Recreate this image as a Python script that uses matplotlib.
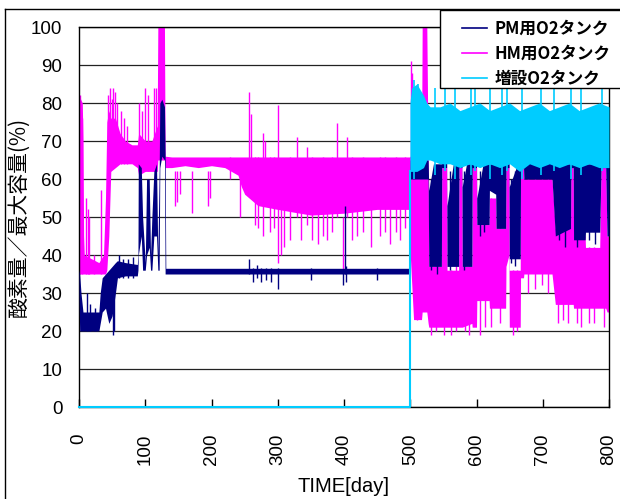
import matplotlib

matplotlib.use("Agg")
import matplotlib.pyplot as plt
from matplotlib.lines import Line2D
from matplotlib.patches import Rectangle

plt.rcParams["font.family"] = ["Liberation Sans", "Noto Sans CJK JP", "DejaVu Sans"]

SERIES_NAMES = ["PM用O2タンク", "HM用O2タンク", "増設O2タンク"]
COLORS = ["#000080", "#FF00FF", "#00CCFF"]
X_TICKS = [0, 100, 200, 300, 400, 500, 600, 700, 800]
Y_TICKS = [0, 10, 20, 30, 40, 50, 60, 70, 80, 90, 100]

# PM tank: envelope of the daily swing (day, low, high)
PM_DAY = [0, 1, 3, 6, 10, 20, 30, 32, 35, 40, 45, 50, 55, 58, 70, 88, 89, 89.5, 94, 96,
          100, 102, 106, 108, 110, 113, 117, 119, 121, 122, 125, 129, 130, 131, 200, 300,
          400, 498, 500, 527, 528, 535, 547, 547.5, 555, 555.5, 565, 573, 573.5, 578,
          578.5, 585, 593, 593.5, 600, 600.5, 610, 619, 619.5, 629, 629.5, 644, 644.5,
          649, 649.5, 662, 666, 666.5, 671, 671.5, 714, 719, 742, 742.5, 746, 746.5, 764,
          764.5, 786, 788, 795, 797, 800]
PM_LO = [30, 20, 20, 20, 20, 20, 20, 22, 25, 26, 22, 24, 30, 34, 34.5, 34.5, 36, 40, 45, 36,
         36, 40, 42, 36, 36, 45, 45, 36, 36, 63, 66, 65, 35, 35, 35, 35,
         35, 35, 60, 60, 37, 37, 37, 63, 63, 37, 37, 37, 63, 63,
         37, 37, 37, 63, 63, 48, 48, 48, 57, 56, 47, 47, 63,
         63, 39, 39, 39, 63, 63, 60, 60, 45, 47, 63, 63, 44, 44,
         46, 46, 63, 63, 45, 45]
PM_HI = [36, 35, 30, 25, 25, 25, 25, 30, 34, 35, 36, 37, 38, 38.5, 38, 37.5, 40, 64, 63, 50,
         38, 60, 60, 40, 50, 62, 64, 40, 62, 80, 81, 79, 66, 36.5, 36.5, 36.5,
         36.5, 36.5, 65, 65, 57, 64, 64, 65, 65, 53, 64, 64, 65, 65,
         58, 64, 64, 65, 65, 55, 64, 64, 64, 64, 64, 64, 65,
         65, 58, 64, 64, 65, 65, 65, 65, 64, 64, 65, 65, 64, 64,
         64, 64, 65, 65, 64, 64]
PM_SPIKE_DAY = [12, 16, 24, 52, 53, 60, 66, 74, 81, 256, 262, 268, 275, 283, 290, 301, 350,
                399, 401, 403, 450, 532, 540, 560, 581, 606, 612, 652, 658, 725, 733, 752,
                770, 779]
PM_SPIKE_LO = [20, 20, 20, 19, 20, 34, 34, 34, 34, 35, 33, 34, 33, 33.5, 33, 31, 33.5,
               32, 35, 33, 33.5, 36, 35, 36, 36, 45, 46, 38, 37, 44, 42, 42, 44, 43]
PM_SPIKE_HI = [30, 27, 26, 36, 36, 40, 39, 39, 39.5, 39, 36.5, 37.5, 36.5, 36.5, 36.5,
               36.5, 36.5, 36, 53, 37, 36.5, 60, 62, 62, 62, 62, 62, 60, 62, 62, 62, 62,
               62, 62]

# HM tank
HM_DAY = [0, 5, 6, 7, 8, 30, 37, 40, 42, 45, 48, 55, 62, 70, 80, 88, 90, 100, 110, 118,
          119, 129, 130, 140, 160, 180, 200, 220, 240, 245, 250, 270, 300, 350, 400, 450,
          497, 499, 500, 505, 517, 518, 525, 527, 528, 547, 547.5, 555, 555.5, 573, 573.5,
          578, 578.5, 593, 593.5, 600, 600.5, 619, 619.5, 629, 629.5, 644, 644.5, 649,
          649.5, 666, 666.5, 671, 671.5, 714, 719, 742, 742.5, 746, 746.5, 764, 764.5,
          786, 788, 795, 797, 800]
HM_LO = [35, 35, 35, 35, 35, 35, 35, 35, 36, 45, 62, 63, 64, 64, 64, 63, 61, 62, 62, 62,
         65, 65, 63, 63, 63.5, 63, 63.5, 63, 61, 58, 56, 53, 52, 50.5, 51, 52,
         52, 52, 40, 23, 23, 25, 25, 22, 21, 21, 21, 21, 21, 21, 21,
         21, 21, 22, 21, 21, 28, 28, 26, 26, 26, 26, 37, 40,
         21, 21, 34, 34, 35, 35, 27, 27, 27, 27, 26, 26, 26,
         26, 26, 26, 25, 25]
HM_HI = [82, 80, 70, 45, 40, 38, 40, 55, 75, 78, 76, 76, 72, 70, 69, 69, 72, 70, 70, 74,
         100, 100, 66, 65.8, 65.8, 65.8, 65.8, 65.8, 65.8, 65.8, 65.8, 65.8, 65.8, 65.8, 65.8, 65.8,
         65.8, 65.8, 66, 66, 66, 100, 100, 66, 37, 37, 63, 63, 36, 36, 64,
         64, 37, 37, 64, 64, 48, 48, 55, 55, 47, 47, 64, 64,
         36, 36, 64, 64, 60, 60, 47, 47, 64, 64, 45, 45, 42,
         42, 64, 64, 45, 45]
HM_SPIKE_DAY = [2, 4, 11, 13, 15, 22, 33, 44, 47, 50, 52, 55, 58, 63, 68, 73, 90, 95, 99,
                104, 113, 116, 145, 148, 152, 170, 195, 197, 228, 243, 256, 259, 265, 270,
                277, 281, 278, 288, 295, 301, 305, 310, 318, 329, 335, 344, 352, 360, 368,
                375, 382, 389, 399, 404, 412, 420, 428, 440, 455, 462, 470, 478, 485, 492,
                501, 503, 510, 532, 539, 551, 562, 569, 583, 589, 605, 613, 622, 635, 655,
                661, 677, 688, 699, 708, 723, 731, 738, 751, 758, 770, 778, 792]
HM_SPIKE_LO = [35, 35, 35, 35, 35, 35, 35, 60, 62, 64, 64, 64, 64, 64, 64, 64, 62, 62, 62,
               62, 62, 62, 53, 54, 56, 51, 53, 55, 60, 50, 60, 60, 48, 47,
               55, 55, 45, 46, 47, 38, 40, 42, 44, 50, 44, 48, 44, 43, 45,
               44, 46, 50, 35, 50, 44, 45, 46, 42, 45, 46, 43, 46, 44, 47,
               40, 40, 23, 19, 20, 19, 19, 20, 20, 19, 19, 21, 21, 22, 19,
               20, 30, 31, 32, 30, 22, 23, 22, 22, 21, 22, 22, 21]
HM_SPIKE_HI = [82, 76, 55, 52, 50, 40, 57, 82, 84, 81, 84, 83, 80, 78, 76, 74, 80, 78, 84,
               82, 84, 84, 62, 62, 62, 62, 62, 62, 65.8, 60, 83, 77, 65.8, 65.8,
               72, 70, 55, 65.8, 65.8, 79.5, 65, 65, 65.8, 71, 65, 68.5, 65.8, 65, 65.8,
               65, 65.8, 74.7, 50, 71, 65.8, 65, 65.8, 65, 65.8, 65.8, 65, 65.8, 65, 65.8,
               91, 88, 40, 37, 37, 36, 36, 37, 37, 37, 48, 48, 55, 47, 36,
               36, 60, 60, 60, 60, 47, 47, 47, 45, 45, 42, 42, 45]

# added tank: empty until day 500
ADD_LINE_DAY = [0, 499.5, 499.5]
ADD_LINE_VAL = [0, 0, 62]
ADD_DAY = [499.5, 502, 510, 520, 525, 530, 545, 560, 575, 590, 605, 620, 635, 650, 665,
           680, 695, 710, 725, 740, 755, 770, 785, 800]
ADD_LO = [62, 62, 62, 63, 65, 65, 64, 64, 63, 64, 63, 64, 63, 64, 62, 64, 63, 64, 63, 64,
          63, 64, 63, 63]
ADD_HI = [80, 84, 85, 82, 80, 79, 79, 80, 78, 79, 80, 78, 79, 80, 78, 79, 80, 78, 79, 80,
          78, 79, 80, 79]
ADD_SPIKE_DAY = [505, 512, 538, 553, 568, 591, 598, 621, 639, 646, 669, 697, 717, 742, 757, 790]
ADD_SPIKE_HI = [86, 85, 84, 84, 84, 85, 84, 84, 84, 84, 84, 84, 84, 84, 84, 84]
ADD_SPIKE_LO = [60, 62, 61, 62, 60, 61, 62, 60, 61, 62, 60, 61, 62, 60, 61, 62]

W, H = 620, 499
fig = plt.figure(figsize=(W / 100, H / 100), dpi=100)
ax = fig.add_axes([79 / W, (H - 407) / H, 530 / W, 380 / H])

# HM (below), PM, then added tank on top
ax.fill_between(HM_DAY, HM_LO, HM_HI, color=COLORS[1], lw=0, zorder=2)
ax.vlines(HM_SPIKE_DAY, HM_SPIKE_LO, HM_SPIKE_HI, color=COLORS[1], lw=1, zorder=2)
ax.fill_between(PM_DAY, PM_LO, PM_HI, color=COLORS[0], lw=0, zorder=3)
ax.vlines(PM_SPIKE_DAY, PM_SPIKE_LO, PM_SPIKE_HI, color=COLORS[0], lw=1, zorder=3)
ax.plot(ADD_LINE_DAY, ADD_LINE_VAL, color=COLORS[2], lw=1.5, zorder=4, clip_on=False)
ax.fill_between(ADD_DAY, ADD_LO, ADD_HI, color=COLORS[2], lw=0, zorder=4)
ax.vlines(ADD_SPIKE_DAY, ADD_SPIKE_LO, ADD_SPIKE_HI, color=COLORS[2], lw=1.2, zorder=4)

ax.set_xlim(0, 800)
ax.set_ylim(0, 100)
ax.set_xticks(X_TICKS)
ax.set_yticks(Y_TICKS)
ax.set_xticklabels([str(t) for t in X_TICKS], rotation=90, fontsize=13.5)
ax.set_yticklabels([str(t) for t in Y_TICKS], fontsize=13.5)
ax.tick_params(axis="x", direction="in", length=6, width=1, pad=19)
ax.tick_params(axis="y", length=0, pad=12)
ax.grid(axis="y", color="#222222", lw=0.9)
ax.set_axisbelow(True)
for s in ax.spines.values():
    s.set_color("black")
    s.set_linewidth(1)

ax.set_xlabel("TIME[day]", fontsize=14.5, labelpad=9)
ax.set_ylabel("酸素量／最大容量(%)", fontsize=15, family=["Noto Sans CJK JP"])
ax.yaxis.set_label_coords(-0.093, 0.5)

# outer chart frame
fig.add_artist(Line2D([5 / W, 1], [1 - 9 / H, 1 - 9 / H], color="black", lw=1))
fig.add_artist(Line2D([5 / W, 5 / W], [0, 1 - 9 / H], color="black", lw=1))

# legend box sticking out of the right edge
fig.add_artist(Rectangle((440 / W, 1 - 88 / H), 190 / W, 78 / H, facecolor="white",
                         edgecolor="black", lw=1, zorder=5))
handles = [Line2D([], [], color=c, lw=1.2) for c in COLORS]
fig.legend(handles, SERIES_NAMES, loc="upper left", bbox_to_anchor=(450 / W, 1 - 8 / H),
           frameon=False, handlelength=1.5, handletextpad=0.45, labelspacing=0.42,
           borderpad=0.2, prop={"family": ["Noto Sans CJK JP"], "weight": "bold", "size": 12})

fig.savefig("out.png", dpi=100)
